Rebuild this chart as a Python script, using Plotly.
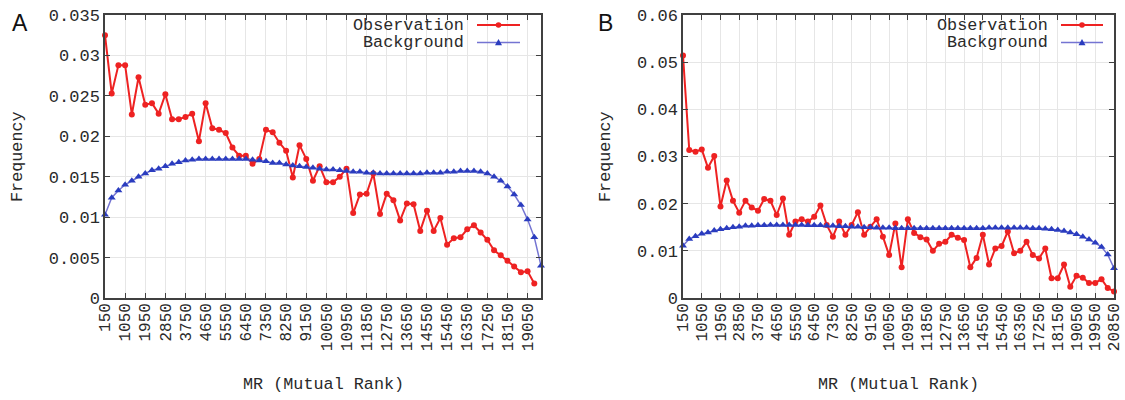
import plotly.graph_objects as go

# ---------------- data ----------------
mr_a = [150 + 300 * k for k in range(66)]          # MR bins, panel A
mr_b = [150 + 300 * k for k in range(70)]          # MR bins, panel B

obs_a = [0.0325, 0.0253, 0.0288, 0.0288, 0.0227, 0.0273, 0.0239, 0.0241, 0.0228, 0.0252,
         0.0221, 0.0221, 0.0224, 0.0228, 0.0194, 0.0241, 0.0210, 0.0208, 0.0204, 0.0186,
         0.0176, 0.0176, 0.0166, 0.0172, 0.0208, 0.0205, 0.0192, 0.0182, 0.0149, 0.0189,
         0.0172, 0.0145, 0.0163, 0.0143, 0.0143, 0.0150, 0.0160, 0.0105, 0.0128, 0.0129,
         0.0154, 0.0104, 0.0129, 0.0121, 0.0096, 0.0117, 0.0116, 0.0083, 0.0108, 0.0083,
         0.0099, 0.0066, 0.0074, 0.0075, 0.0085, 0.0090, 0.0081, 0.0072, 0.0059, 0.0053,
         0.0046, 0.0039, 0.0032, 0.0033, 0.0018]

bg_a = [0.0103, 0.0124, 0.0133, 0.0140, 0.0145, 0.0150, 0.0154, 0.0158, 0.0160, 0.0163,
        0.0166, 0.0168, 0.0170, 0.0171, 0.0172, 0.0172, 0.0172, 0.0172, 0.0172, 0.0172,
        0.0172, 0.0172, 0.0171, 0.0170, 0.0169, 0.0167, 0.0167, 0.0165, 0.0164, 0.0163,
        0.0162, 0.0161, 0.0160, 0.0159, 0.0159, 0.0158, 0.0157, 0.0156, 0.0156, 0.0155,
        0.0155, 0.0154, 0.0154, 0.0154, 0.0154, 0.0154, 0.0154, 0.0154, 0.0155, 0.0155,
        0.0155, 0.0156, 0.0156, 0.0157, 0.0157, 0.0157, 0.0156, 0.0154, 0.0150, 0.0145,
        0.0138, 0.0128, 0.0115, 0.0097, 0.0075, 0.0040]

obs_b = [0.0514, 0.0314, 0.0310, 0.0315, 0.0276, 0.0301, 0.0194, 0.0249, 0.0206, 0.0181,
         0.0206, 0.0192, 0.0185, 0.0210, 0.0206, 0.0176, 0.0211, 0.0134, 0.0162, 0.0167,
         0.0162, 0.0172, 0.0196, 0.0155, 0.0130, 0.0162, 0.0134, 0.0155, 0.0182, 0.0134,
         0.0151, 0.0167, 0.0130, 0.0091, 0.0158, 0.0065, 0.0167, 0.0138, 0.0129, 0.0124,
         0.0100, 0.0115, 0.0119, 0.0134, 0.0128, 0.0123, 0.0065, 0.0085, 0.0134, 0.0071,
         0.0105, 0.0110, 0.0141, 0.0095, 0.0100, 0.0119, 0.0091, 0.0084, 0.0105, 0.0042,
         0.0042, 0.0071, 0.0024, 0.0047, 0.0043, 0.0032, 0.0032, 0.0040, 0.0021, 0.0014]

bg_b = [0.0111, 0.0125, 0.0131, 0.0136, 0.0139, 0.0143, 0.0146, 0.0148, 0.0150, 0.0151,
        0.0153, 0.0153, 0.0154, 0.0154, 0.0155, 0.0155, 0.0155, 0.0155, 0.0155, 0.0155,
        0.0154, 0.0154, 0.0154, 0.0153, 0.0153, 0.0152, 0.0152, 0.0151, 0.0151, 0.0150,
        0.0150, 0.0149, 0.0149, 0.0149, 0.0148, 0.0148, 0.0148, 0.0148, 0.0148, 0.0148,
        0.0148, 0.0148, 0.0148, 0.0148, 0.0148, 0.0148, 0.0148, 0.0148, 0.0148, 0.0149,
        0.0149, 0.0149, 0.0149, 0.0149, 0.0149, 0.0149, 0.0148, 0.0148, 0.0147, 0.0146,
        0.0144, 0.0142, 0.0139, 0.0135, 0.0130, 0.0124, 0.0117, 0.0108, 0.0092, 0.0063]

xticks_a = [150, 1050, 1950, 2850, 3750, 4650, 5550, 6450, 7350, 8250, 9150, 10050,
            10950, 11850, 12750, 13650, 14550, 15450, 16350, 17250, 18150, 19050]
xticks_b = xticks_a + [19950, 20850]
yticks_a = [0, 0.005, 0.01, 0.015, 0.02, 0.025, 0.03, 0.035]
ylabels_a = ["0", "0.005", "0.01", "0.015", "0.02", "0.025", "0.03", "0.035"]
yticks_b = [0, 0.01, 0.02, 0.03, 0.04, 0.05, 0.06]
ylabels_b = ["0", "0.01", "0.02", "0.03", "0.04", "0.05", "0.06"]

series_names = ["Observation", "Background"]

# ---------------- style ----------------
W, H = 1125, 400
RED = "#ee2222"
BLUE_M = "#2a3cbf"
BLUE_L = "#7474d2"
MONO = "Courier New, Courier, FreeMono, Nimbus Mono PS, Liberation Mono, monospace"
TXT = "#2a2a2a"
FRAME = "#404040"
GRID = "#e6e6e6"
B_RIGHT = 1114

def px(x):
    return x / W

def py(y):
    return 1 - y / H

fig = go.Figure()
for xs, ys_o, ys_b, xa, ya in [(mr_a, obs_a, bg_a, "x", "y"), (mr_b, obs_b, bg_b, "x2", "y2")]:
    fig.add_trace(go.Scatter(x=xs[:len(ys_o)], y=ys_o, mode="lines+markers", name=series_names[0],
                             line=dict(color=RED, width=2),
                             marker=dict(symbol="circle", size=6, color=RED),
                             xaxis=xa, yaxis=ya, showlegend=False, cliponaxis=False))
    fig.add_trace(go.Scatter(x=xs[:len(ys_b)], y=ys_b, mode="lines+markers", name=series_names[1],
                             line=dict(color=BLUE_L, width=1.5),
                             marker=dict(symbol="triangle-up", size=7, color=BLUE_M),
                             xaxis=xa, yaxis=ya, showlegend=False, cliponaxis=False))

ydom = [py(298), py(15)]
common_x = dict(showline=True, linecolor=FRAME, linewidth=1.5, mirror="ticks",
                ticks="inside", ticklen=5, tickcolor=FRAME, tickangle=-90,
                ticklabelstandoff=-3, ticklabeloverflow="allow",
                tickfont=dict(family=MONO, size=16, color=TXT), automargin=False,
                showgrid=True, gridcolor=GRID, gridwidth=1, zeroline=False)
common_y = dict(showline=True, linecolor=FRAME, linewidth=1.5, mirror="ticks",
                ticks="inside", ticklen=5, tickcolor=FRAME, automargin=False,
                tickfont=dict(family=MONO, size=17, color=TXT),
                showgrid=True, gridcolor=GRID, gridwidth=1, zeroline=False)

fig.update_layout(
    width=W, height=H,
    margin=dict(l=0, r=0, t=0, b=0),
    paper_bgcolor="white", plot_bgcolor="white",
    showlegend=False,
    xaxis=dict(domain=[px(105), px(541)], range=[150, 19650],
               tickvals=xticks_a, ticktext=[str(v) for v in xticks_a], anchor="y", **common_x),
    yaxis=dict(domain=ydom, range=[0, 0.035], tickvals=yticks_a, ticktext=ylabels_a,
               anchor="x", **common_y),
    xaxis2=dict(domain=[px(683), px(B_RIGHT)], range=[150, 20850],
                tickvals=xticks_b, ticktext=[str(v) for v in xticks_b], anchor="y2", **common_x),
    yaxis2=dict(domain=ydom, range=[0, 0.06], tickvals=yticks_b, ticktext=ylabels_b,
                anchor="x2", **common_y),
)

annotations = []
shapes = []
for letter, lx, plot_l, plot_r, ytitle_x, leg_text_r, leg_l, leg_r in [
        ("A", 10, 105, 541, 17, 466, 477, 520),
        ("B", 596, 683, B_RIGHT, 605, 1050, 1061, 1103)]:
    annotations.append(dict(text=letter, x=px(lx), y=py(8), xref="paper", yref="paper",
                            xanchor="left", yanchor="top", showarrow=False,
                            font=dict(family="Liberation Sans, Arial, sans-serif", size=23, color="#111")))
    annotations.append(dict(text="MR (Mutual Rank)", x=px((plot_l + plot_r) / 2), y=py(384),
                            xref="paper", yref="paper", xanchor="center", yanchor="middle",
                            showarrow=False, font=dict(family=MONO, size=16.8, color=TXT)))
    annotations.append(dict(text="Frequency", x=px(ytitle_x), y=py(157), xref="paper", yref="paper",
                            xanchor="center", yanchor="middle", textangle=-90, showarrow=False,
                            font=dict(family=MONO, size=16.8, color=TXT)))
    # legend (text on the left, key on the right, like the original)
    for k, (name, yy) in enumerate(zip(series_names, [25, 42.5])):
        annotations.append(dict(text=name, x=px(leg_text_r), y=py(yy), xref="paper", yref="paper",
                                xanchor="right", yanchor="middle", showarrow=False,
                                font=dict(family=MONO, size=16.8, color=TXT)))
        col = RED if k == 0 else BLUE_L
        shapes.append(dict(type="line", xref="paper", yref="paper",
                           x0=px(leg_l), x1=px(leg_r), y0=py(yy), y1=py(yy),
                           line=dict(color=col, width=2 if k == 0 else 1.5)))
        cx = (leg_l + leg_r) / 2
        if k == 0:
            shapes.append(dict(type="circle", xref="paper", yref="paper",
                               x0=px(cx - 2.8), x1=px(cx + 2.8), y0=py(yy + 2.8), y1=py(yy - 2.8),
                               fillcolor=RED, line=dict(color=RED, width=0)))
        else:
            path = "M {} {} L {} {} L {} {} Z".format(px(cx - 3.5), py(yy + 2.8), px(cx + 3.5),
                                                     py(yy + 2.8), px(cx), py(yy - 3.5))
            shapes.append(dict(type="path", xref="paper", yref="paper", path=path,
                               fillcolor=BLUE_M, line=dict(color=BLUE_M, width=0)))

fig.update_layout(annotations=annotations, shapes=shapes)
fig.write_html("out.html", config={"displayModeBar": False},
               post_script="document.body.style.margin='0';document.body.style.overflow='hidden';")
